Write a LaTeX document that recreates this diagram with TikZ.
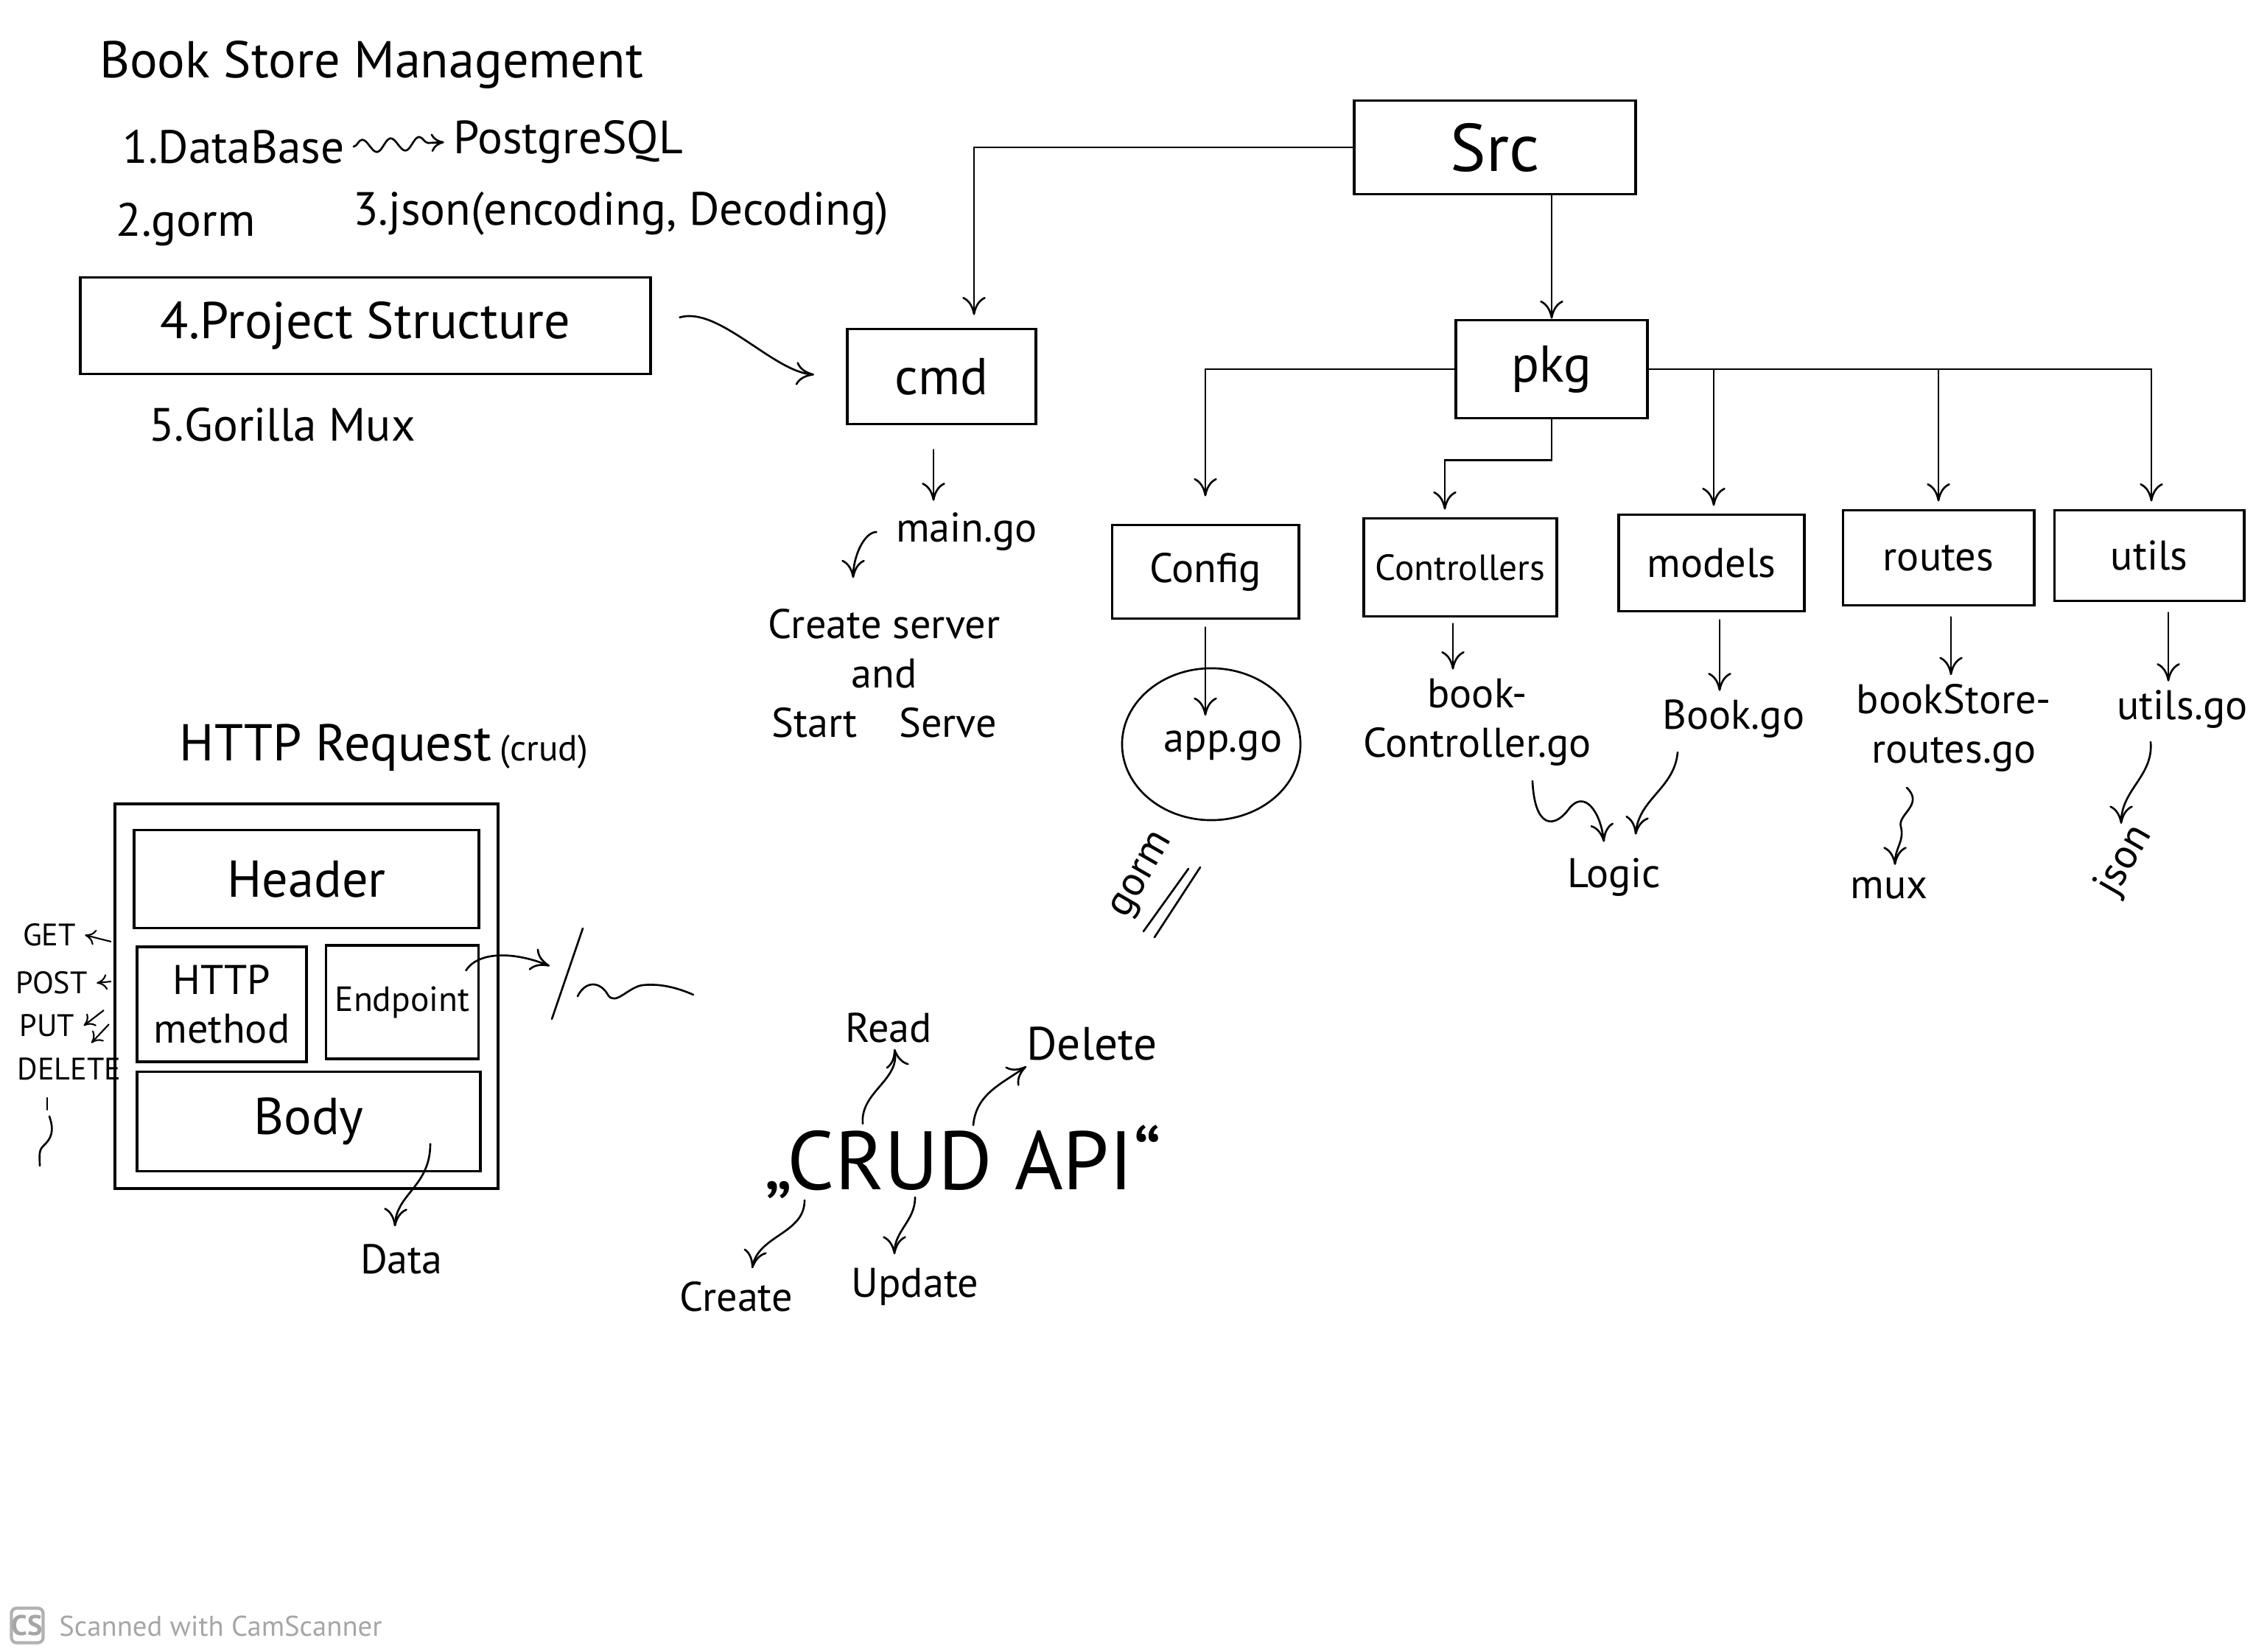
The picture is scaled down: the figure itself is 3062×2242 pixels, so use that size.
\documentclass[tikz,border=0pt]{standalone}
\usepackage{fontspec}
\setmainfont{PT Sans}
\usepackage{tikz}
\usetikzlibrary{calc,arrows.meta,shapes.geometric,decorations.pathmorphing}

\tikzset{
  box/.style={draw, line width=1.1pt, inner sep=2pt},
  pen/.style={line width=0.75pt, line cap=round},
  arr/.style={pen, -{To[length=7pt,width=9pt]}},
  tip/.style={line width=0.6pt, -{To[length=4pt,width=6pt]}},
  tbig/.style={font=\fontsize{26}{30}\selectfont},
  tmid/.style={font=\fontsize{20}{24}\selectfont},
  tnote/.style={font=\fontsize{18}{21}\selectfont},
  tfile/.style={font=\fontsize{16}{19}\selectfont},
  tsmall/.style={font=\fontsize{14}{17}\selectfont},
  ttiny/.style={font=\fontsize{12}{14}\selectfont},
}

\begin{document}
\begin{tikzpicture}[x=0.01cm, y=-0.01cm]
    \useasboundingbox (0,0) rectangle (3062,2242);

    % draw notes on the top left
    \node[tmid] (title) at (504,88) {Book Store Management};
    \node[tnote] (db) at (317,199) {1.DataBase};
    \node[tnote] (pg) at (771,193) {PostgreSQL};
    \draw[pen, -{To[length=5pt,width=7pt]}, decorate,
          decoration={snake, amplitude=2.5pt, segment length=11pt, post length=5pt}]
        (db.east) -- (pg.west);
    \node[tnote] (gorm) at (252,305) {2.gorm};
    \node[tnote] (json) at (843,290) {3.json(encoding, Decoding)};
    \node[box, tmid, minimum width=7.74cm, minimum height=1.31cm] (proj) at (496,442) {4.Project Structure};
    \node[tnote] (gmux) at (383,576) {5.Gorilla Mux};

    % draw folder boxes
    \node[box, tbig, minimum width=3.82cm, minimum height=1.27cm] (src) at (2029,200) {Src};
    \node[box, tmid, minimum width=2.56cm, minimum height=1.29cm] (cmd) at (1278,511) {cmd};
    \node[box, tmid, minimum width=2.60cm, minimum height=1.33cm] (pkg) at (2106,501) {pkg};
    \node[box, tfile, minimum width=2.53cm, minimum height=1.27cm] (config) at (1636,776) {Config};
    \node[box, tsmall, minimum width=2.62cm, minimum height=1.33cm] (ctrl) at (1982,770) {Controllers};
    \node[box, tfile, minimum width=2.52cm, minimum height=1.31cm] (models) at (2323,764) {models};
    \node[box, tfile, minimum width=2.59cm, minimum height=1.29cm] (routes) at (2631,757) {routes};
    \node[box, tfile, minimum width=2.57cm, minimum height=1.23cm] (utils) at (2917,754) {utils};

    % draw tree connectors
    \draw[arr, shorten <=0.39cm, shorten >=0.43cm] (proj.east) .. controls (975,415) and (1050,505) .. (cmd.west);
    \draw[arr] (src.west) -| ($(cmd.north)+(44,-17)$);
    \draw[arr] (src.south -| pkg.north) -- (pkg.north);
    \draw[arr] (pkg.west) -| ($(config.north)+(0,-37)$);
    \draw[arr] (pkg.south) -- ++(0,55) -| ($(ctrl.north)+(-21,-10)$);
    \draw[arr] (pkg.east) -| ($(utils.north)+(3,-10)$);
    \draw[arr] ($(pkg.east -| models.north)+(3,0)$) -- ($(models.north)+(3,-10)$);
    \draw[arr] (pkg.east -| routes.north) -- ($(routes.north)+(0,-10)$);

    % draw files
    \node[tfile] (maingo) at (1312,722) {main.go};
    \node[tfile, align=center] (serve) at (1200,914) {Create server\\and\\Start\quad Serve};
    \node[ellipse, draw, pen, minimum width=2.42cm, minimum height=2.06cm] (appring) at (1644,1010) {};
    \node[tfile] (appgo) at (1660,1012) {app.go};
    \node[tfile, align=center] (ctlfile) at (2005,980) {book-\\Controller.go};
    \node[tfile] (bookgo) at (2353,976) {Book.go};
    \node[tfile, align=center] (routesgo) at (2652,988) {bookStore-\\routes.go};
    \node[tfile] (utilsgo) at (2962,963) {utils.go};
    \node[tfile] (logic) at (2191,1191) {Logic};
    \node[tfile] (muxpkg) at (2564,1205) {mux};
    \node[tfile, rotate=60] (jsonpkg) at (2884,1168) {json};
    \node[tfile, rotate=60] (gormpkg) at (1552,1189) {gorm};
    \draw[pen] (1567,1272) -- (1629,1177);
    \draw[pen] (1552,1264) -- (1613,1179);

    % draw file connectors
    \draw[arr] ($(cmd.south)+(-11,33)$) -- ($(cmd.south |- maingo.north)+(-11,-4)$);
    \draw[arr, shorten <=4pt] (maingo.west) to[out=180,in=90] ($(serve.north)+(-42,-30)$);
    \draw[arr] ($(config.south)+(0,10)$) -- ($(config.south |- appgo.north)+(0,-8)$);
    \draw[arr] ($(ctrl.south)+(-10,8)$) -- ($(ctrl.south |- ctlfile.north)+(-10,0)$);
    \draw[arr] ($(models.south)+(11,10)$) -- ($(models.south |- bookgo.north)+(11,0)$);
    \draw[arr] ($(routes.south)+(17,14)$) -- ($(routes.south |- routesgo.north)+(17,0)$);
    \draw[arr] ($(utils.south)+(26,14)$) -- ($(utils.south |- utilsgo.north)+(26,0)$);
    \draw[arr] ($(ctlfile)+(75,80)$) .. controls (2083,1125) and (2110,1125) .. (2130,1097)
        .. controls (2150,1072) and (2172,1100) .. ($(logic.north)+(-14,-10)$);
    \draw[arr] ($(bookgo)+(-76,45)$) to[out=-95,in=85] ($(logic.north)+(29,-20)$);
    \draw[arr] ($(routesgo)+(-64,81)$) .. controls (2612,1092) and (2575,1105) .. (2580,1122)
        .. controls (2585,1142) and (2572,1150) .. ($(muxpkg.north)+(8,-4)$);
    \draw[arr] ($(utilsgo)+(-43,44)$) to[out=-85,in=90] ($(jsonpkg)+(-5,-50)$);

    % draw http request
    \node[tmid] (httpreq) at (521,1015) {HTTP Request\,{\fontsize{14}{16}\selectfont(crud)}};
    \node[box, minimum width=5.20cm, minimum height=5.21cm] (outer) at (416,1352) {};
    \node[box, tmid, minimum width=4.68cm, minimum height=1.33cm] (header) at (416,1193) {Header};
    \node[box, tfile, align=center, minimum width=2.30cm, minimum height=1.56cm] (method) at (301,1363) {HTTP\\method};
    \node[box, font=\fontsize{13.5}{16}\selectfont, inner sep=1pt, minimum width=2.07cm, minimum height=1.54cm] (endpt) at (546,1360) {Endpoint};
    \node[box, tmid, minimum width=4.66cm, minimum height=1.35cm] (body) at (419,1522) {Body};
    \node[tfile] (data) at (545,1709) {Data};

    \node[ttiny] (get) at (67,1269) {GET};
    \node[ttiny] (post) at (70,1334) {POST};
    \node[ttiny] (put) at (64,1392) {PUT};
    \node[ttiny] (delete) at (94,1451) {DELETE};
    \draw[tip] ($(outer.west)+(-3,-74)$) -- (get.east);
    \draw[tip] ($(outer.west)+(-3,-20)$) -- (post.east);
    \draw[tip] ($(outer.west)+(-13,19)$) -- (put.east);
    \draw[tip] ($(outer.west)+(-6,38)$) -- ($(delete.north)+(30,-8)$);
    \draw[pen] (64,1490) -- (64,1506);
    \draw[pen] (67,1515) .. controls (74,1535) and (70,1545) .. (58,1556) .. controls (52,1562) and (54,1572) .. (54,1582);

    % draw endpoint route and body data
    \coordinate (route) at (746,1311);
    \draw[arr] ($(endpt.north east)+(-19,36)$) .. controls (650,1290) and (700,1292) .. (route);
    \draw[pen] (791,1260) -- (749,1383);
    \draw[pen] (784,1352) .. controls (795,1330) and (815,1332) .. (825,1350)
        .. controls (835,1366) and (852,1340) .. (872,1337) .. controls (900,1334) and (925,1343) .. (941,1350);
    \draw[arr] ($(body.south)+(165,-39)$) .. controls (584,1610) and (538,1620) .. ($(data.north)+(-9,-12)$);

    % draw crud api
    \node[font=\fontsize{32}{36}\selectfont] (crud) at (1307,1577) {„CRUD API“};
    \node[tfile] (read) at (1206,1395) {Read};
    \node[tnote] (del) at (1482,1416) {Delete};
    \node[tfile] (create) at (999,1760) {Create};
    \node[tfile] (update) at (1242,1746) {Update};
    \draw[arr] ($(crud)+(-136,-52)$) to[out=95,in=-80] ($(read.south)+(8,-4)$);
    \draw[arr] ($(crud)+(14,-50)$) to[out=85,in=215] ($(del.south west)+(12,-4)$);
    \draw[arr] ($(crud)+(-215,52)$) to[out=-90,in=80] ($(create.north)+(22,-6)$);
    \draw[arr] ($(crud)+(-65,48)$) to[out=-90,in=90] ($(update.north)+(-28,-6)$);

    % draw scanner mark
    \node[draw=black!30, fill=white, rounded corners=2pt, line width=1.2pt, text=black!35,
          font=\bfseries\fontsize{11}{12}\selectfont, minimum width=0.43cm, minimum height=0.47cm, inner sep=0pt] (cslogo) at (37,2206) {CS};
    \node[text=black!35, font=\fontsize{11}{13}\selectfont, anchor=west] (csname) at (68,2207) {Scanned with CamScanner};

\end{tikzpicture}
\end{document}
